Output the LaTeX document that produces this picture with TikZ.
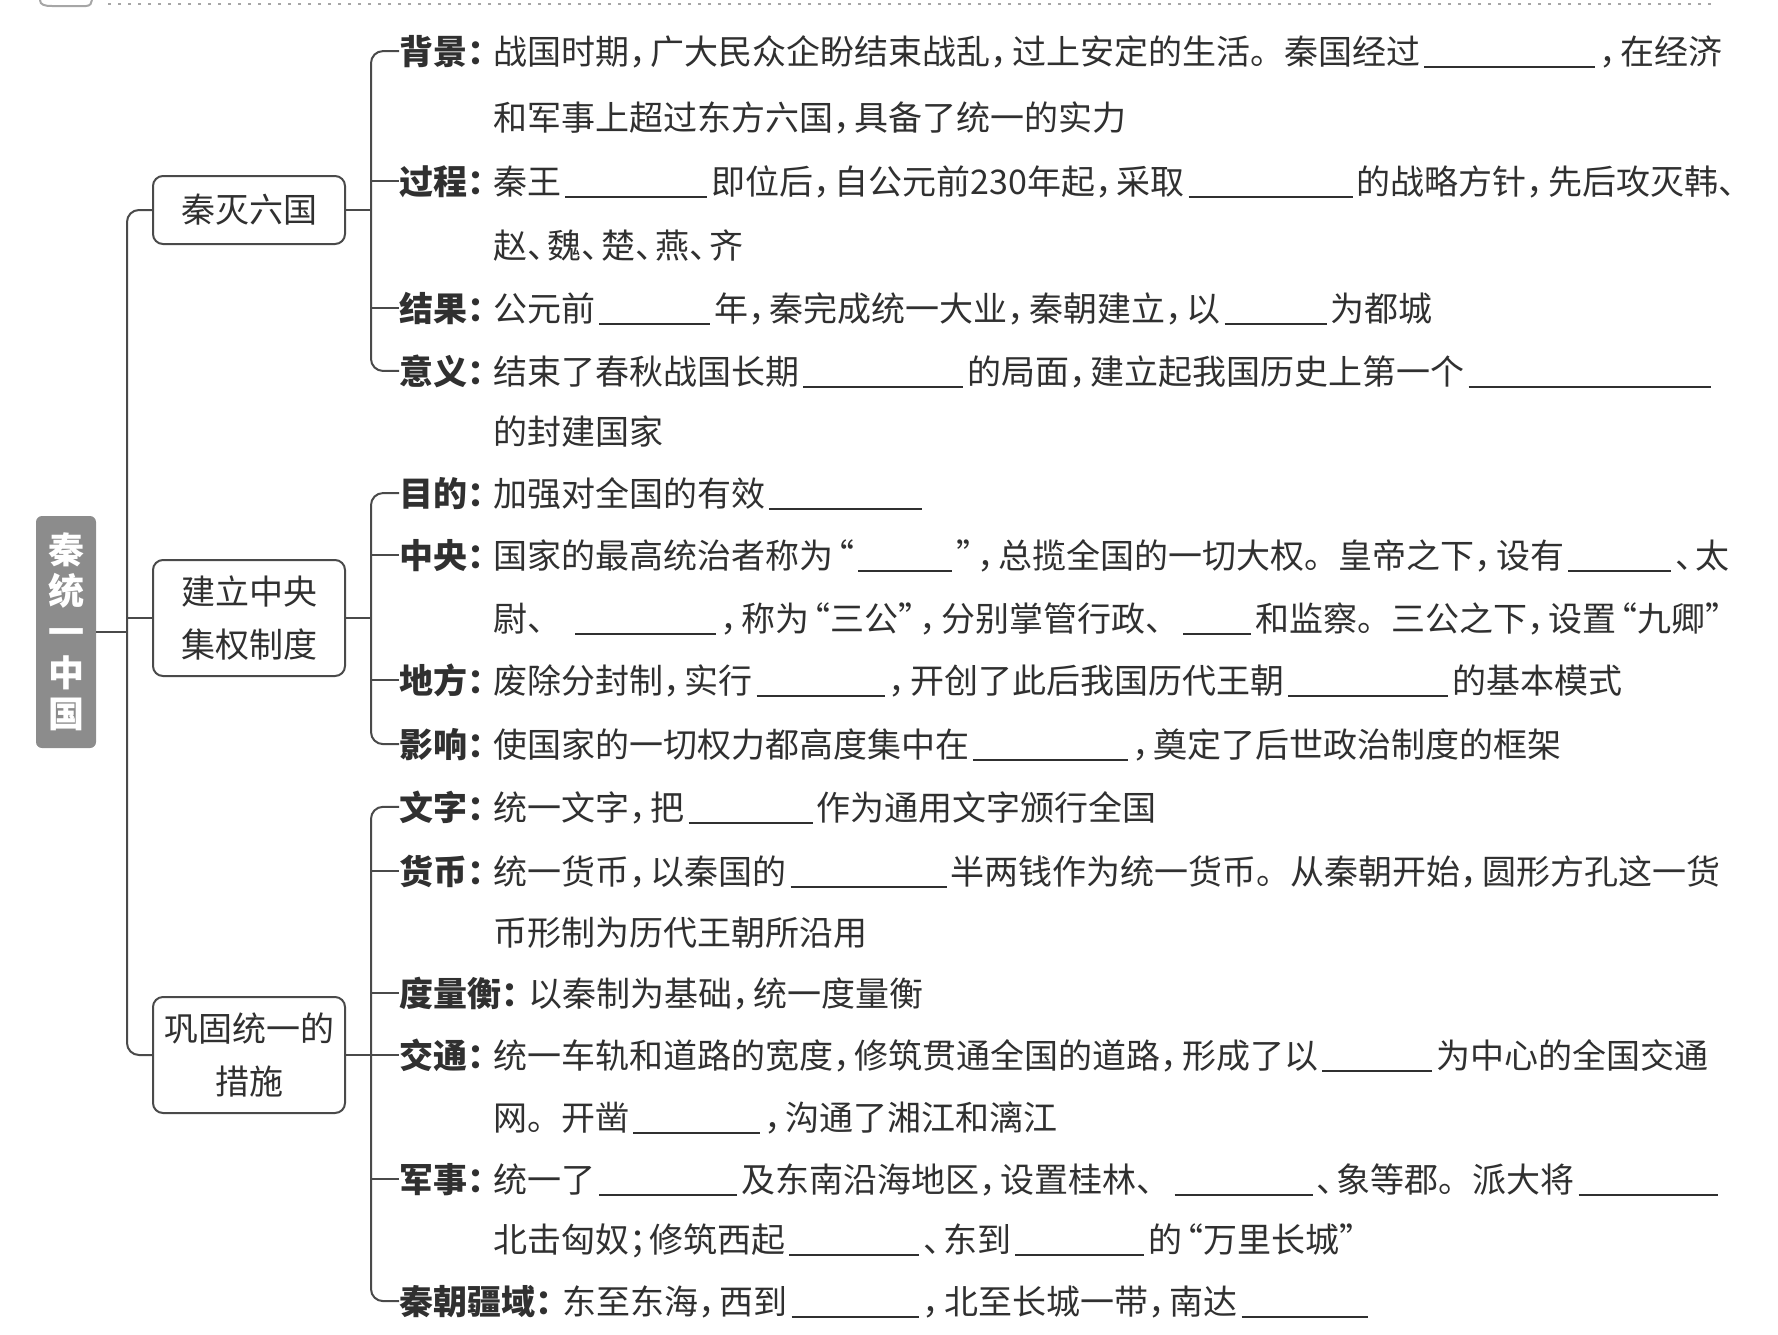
\documentclass[tikz,border=0pt]{standalone}
\usepackage{fontspec}
\newfontfamily\cjk{Noto Sans CJK SC}
\newfontfamily\cjkh[RawFeature=+halt]{Noto Sans CJK SC}
\definecolor{ink}{HTML}{303030}
\definecolor{lineclr}{HTML}{4A4A4A}
\definecolor{rootgray}{HTML}{8C8C8C}
\newcommand\cm{{\cjkh ，}\hspace{4.5pt}}
\newcommand\dn{{\cjkh 、}\hspace{3pt}}
\newcommand\smc{{\cjkh ；}\hspace{3pt}}
\newcommand\col{{\cjkh ：}}
\newcommand\lqt{\hspace{4pt}{\cjkh “}}
\newcommand\rqt{{\cjkh ”}\hspace{4pt}}
\newcommand\bl[1]{\hspace{4pt}\rule[-4pt]{#1pt}{1.6pt}\hspace{4pt}}
\begin{document}
\begin{tikzpicture}[x=1pt,y=-1pt,
  every node/.style={inner sep=0pt, outer sep=0pt},
  txt/.style={anchor=base west, font=\fontsize{34}{40}\selectfont\cjk, text=ink},
  lab/.style={anchor=base west, font=\fontsize{34}{40}\selectfont\cjk\bfseries, text=ink},
  box/.style={draw=lineclr, line width=2pt, rounded corners=10pt, minimum width=192pt, align=center, font=\fontsize{34}{53}\selectfont\cjk, text=ink},
  conn/.style={draw=lineclr, line width=2pt}
]
\useasboundingbox (0,0) rectangle (1778,1334);
% top dotted line and fragment of header icon
\draw[gray!70, line width=2.5pt, dash pattern=on 2.5pt off 7.5pt] (108,4) -- (1718,4);
\draw[gray!70, line width=2pt] (40,0) .. controls (40,5) and (45,6) .. (52,6) -- (86,6) .. controls (90,6) and (92,3) .. (92,0);

% root
\node[fill=rootgray, rounded corners=6pt, minimum width=60pt, minimum height=232pt, align=center,
      text=white, font=\fontsize{36}{41}\selectfont\cjk\bfseries] (root) at (66,632) {秦\\统\\一\\中\\国};

% level-1 boxes
\node[box, minimum height=68pt] (b1) at (249,210) {秦灭六国};
\node[box, minimum height=116pt] (b2) at (249,618) {建立中央\\集权制度};
\node[box, minimum height=116pt] (b3) at (249,1055) {巩固统一的\\措施};

\coordinate (xt) at (127,0);
\coordinate (xb) at (371,0);

% group 1
\node[lab] (l1) at (399,64) {背景\col};
\node[txt] (t1) at (493,64) {战国时期\cm 广大民众企盼结束战乱\cm 过上安定的生活。秦国经过\bl{171}\cm 在经济};
\node[txt] (c1) at (493,130) {和军事上超过东方六国\cm 具备了统一的实力};
\node[lab] (l2) at (399,194) {过程\col};
\node[txt] (t2) at (493,194) {秦王\bl{142}即位后\cm 自公元前230年起\cm 采取\bl{164}的战略方针\cm 先后攻灭韩、};
\node[txt] (c2) at (493,258) {赵\dn 魏\dn 楚\dn 燕\dn 齐};
\node[lab] (l3) at (399,321) {结果\col};
\node[txt] (t3) at (493,321) {公元前\bl{111}年\cm 秦完成统一大业\cm 秦朝建立\cm 以\bl{102}为都城};
\node[lab] (l4) at (399,384) {意义\col};
\node[txt] (t4) at (493,384) {结束了春秋战国长期\bl{160}的局面\cm 建立起我国历史上第一个\bl{242}};
\node[txt] (c4) at (493,444) {的封建国家};

% group 2
\node[lab] (l5) at (399,506) {目的\col};
\node[txt] (t5) at (493,506) {加强对全国的有效\bl{153}};
\node[lab] (l6) at (399,568) {中央\col};
\node[txt] (t6) at (493,568) {国家的最高统治者称为\lqt\bl{94}\rqt\cm 总揽全国的一切大权。皇帝之下\cm 设有\bl{103}\dn 太};
\node[txt] (c6) at (493,631) {尉、\hspace{10pt}\bl{141}\cm 称为\lqt 三公\rqt\cm 分别掌管行政、\bl{68}和监察。三公之下\cm 设置\lqt 九卿\rqt};
\node[lab] (l7) at (399,693) {地方\col};
\node[txt] (t7) at (493,693) {废除分封制\cm 实行\bl{128}\cm 开创了此后我国历代王朝\bl{160}的基本模式};
\node[lab] (l8) at (399,757) {影响\col};
\node[txt] (t8) at (493,757) {使国家的一切权力都高度集中在\bl{155}\cm 奠定了后世政治制度的框架};

% group 3
\node[lab] (l9) at (399,820) {文字\col};
\node[txt] (t9) at (493,820) {统一文字\cm 把\bl{124}作为通用文字颁行全国};
\node[lab] (l10) at (399,884) {货币\col};
\node[txt] (t10) at (493,884) {统一货币\cm 以秦国的\bl{156}半两钱作为统一货币。从秦朝开始\cm 圆形方孔这一货};
\node[txt] (c10) at (493,945) {币形制为历代王朝所沿用};
\node[lab] (l11) at (399,1006) {度量衡\col};
\node[txt] (t11) at (528,1006) {以秦制为基础\cm 统一度量衡};
\node[lab] (l12) at (399,1068) {交通\col};
\node[txt] (t12) at (493,1068) {统一车轨和道路的宽度\cm 修筑贯通全国的道路\cm 形成了以\bl{110}为中心的全国交通};
\node[txt] (c12) at (493,1130) {网。开凿\bl{127}\cm 沟通了湘江和漓江};
\node[lab] (l13) at (399,1192) {军事\col};
\node[txt] (t13) at (493,1192) {统一了\bl{138}及东南沿海地区\cm 设置桂林、\bl{138}\dn 象等郡。派大将\bl{139}};
\node[txt] (c13) at (493,1252) {北击匈奴\smc 修筑西起\bl{130}\dn 东到\bl{129}的\lqt 万里长城\rqt};
\node[lab] (l14) at (399,1314) {秦朝疆域\col};
\node[txt] (t14) at (562,1314) {东至东海\cm 西到\bl{127}\cm 北至长城一带\cm 南达\bl{126}};

% trunk
\draw[conn, rounded corners=12pt] (b1.west) -- (b1.west -| xt) -- (b3.west -| xt) -- (b3.west);
\draw[conn] (b2.west -| xt) -- (b2.west);
\draw[conn] (root.east) -- (root.east -| xt);

% brackets
\draw[conn, rounded corners=12pt] (l1.west) -- (l1.west -| xb) -- (l4.west -| xb) -- (l4.west);
\draw[conn] (l2.west -| xb) -- (l2.west);
\draw[conn] (l3.west -| xb) -- (l3.west);
\draw[conn] (b1.east) -- (b1.east -| xb);

\draw[conn, rounded corners=12pt] (l5.west) -- (l5.west -| xb) -- (l8.west -| xb) -- (l8.west);
\draw[conn] (l6.west -| xb) -- (l6.west);
\draw[conn] (l7.west -| xb) -- (l7.west);
\draw[conn] (b2.east) -- (b2.east -| xb);

\draw[conn, rounded corners=12pt] (l9.west) -- (l9.west -| xb) -- (l14.west -| xb) -- (l14.west);
\draw[conn] (l10.west -| xb) -- (l10.west);
\draw[conn] (l11.west -| xb) -- (l11.west);
\draw[conn] (l12.west -| xb) -- (l12.west);
\draw[conn] (l13.west -| xb) -- (l13.west);
\draw[conn] (b3.east) -- (b3.east -| xb);
\end{tikzpicture}
\end{document}
